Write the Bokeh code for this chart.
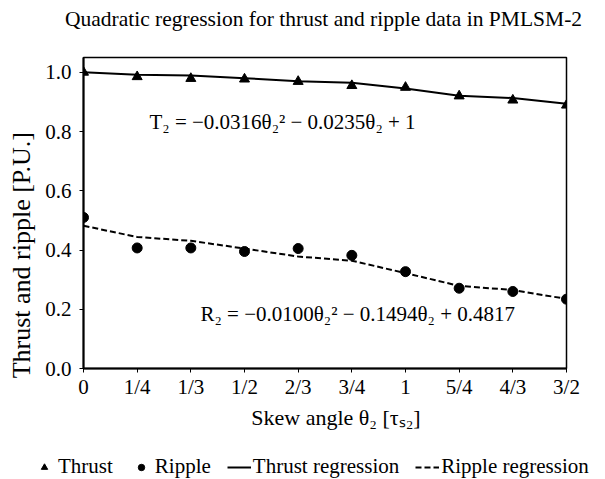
from bokeh.plotting import figure
from bokeh.layouts import column
from bokeh.models import (Range1d, FixedTicker, Legend, LegendItem, Label,
                          NumeralTickFormatter, ColumnDataSource)
from bokeh.embed import file_html
from bokeh.resources import INLINE

# ---- data ----
categories = ["0", "1/4", "1/3", "1/2", "2/3", "3/4", "1", "5/4", "4/3", "3/2"]
thrust = [1.000, 0.985, 0.979, 0.977, 0.969, 0.955, 0.949, 0.920, 0.906, 0.889]
ripple = [0.510, 0.407, 0.407, 0.395, 0.405, 0.382, 0.327, 0.271, 0.260, 0.234]
thrust_fit = [1.000, 0.992, 0.989, 0.980, 0.970, 0.965, 0.945, 0.921, 0.913, 0.894]
ripple_fit = [0.482, 0.444, 0.431, 0.405, 0.378, 0.364, 0.322, 0.279, 0.265, 0.235]
y_ticks = [0.0, 0.2, 0.4, 0.6, 0.8, 1.0]

title_text = "Quadratic regression for thrust and ripple data in PMLSM-2"
x_label = "Skew angle \u03b8\u2082 [\u03c4\u209b\u2082]"
y_label = "Thrust and ripple [P.U.]"
eq_thrust = "T\u2082 = \u22120.0316\u03b8\u2082\u00b2 \u2212 0.0235\u03b8\u2082 + 1"
eq_ripple = "R\u2082 = \u22120.0100\u03b8\u2082\u00b2 \u2212 0.1494\u03b8\u2082 + 0.4817"
legend_labels = ["Thrust", "Ripple", "Thrust regression", "Ripple regression"]

FONT = "Liberation Serif"
FS = "21px"
NB = "\u00a0"
W = 605


def strip(height):
    f = figure(width=W, height=height, output_backend="svg",
               toolbar_location=None, x_range=Range1d(0, W),
               y_range=Range1d(0, height), x_axis_type=None, y_axis_type=None,
               min_border_left=0, min_border_right=0, min_border_top=0,
               min_border_bottom=0)
    f.frame_align = False
    f.grid.visible = False
    f.outline_line_color = None
    f.background_fill_color = "white"
    f.border_fill_color = "white"
    return f


# ---- title strip ----
tt = strip(36)
tt.add_layout(Label(x=323, y=18, text=title_text, text_font=FONT,
                    text_font_size="21.5px", text_align="center",
                    text_baseline="middle", text_color="black"))

# ---- main chart ----
idx = list(range(len(categories)))
src = ColumnDataSource(dict(x=idx, thrust=thrust, ripple=ripple,
                            thrust_fit=thrust_fit, ripple_fit=ripple_fit))

p = figure(width=W, height=419, output_backend="svg", toolbar_location=None,
           x_range=Range1d(0, len(categories) - 1), y_range=Range1d(0, 1.05),
           min_border_left=83, min_border_right=39, min_border_top=21,
           min_border_bottom=87)
p.frame_align = False
p.title = None

p.grid.visible = False
p.outline_line_color = "black"
p.outline_line_width = 1.5
p.background_fill_color = "white"
p.border_fill_color = "white"

p.xaxis.ticker = FixedTicker(ticks=idx)
p.xaxis.major_label_overrides = {i: c for i, c in enumerate(categories)}
p.yaxis.ticker = FixedTicker(ticks=y_ticks)
p.yaxis.formatter = NumeralTickFormatter(format="0.0")
for ax in (p.xaxis, p.yaxis):
    ax.axis_line_color = "black"
    ax.axis_line_width = 2
    ax.major_tick_line_color = "black"
    ax.major_tick_out = 4
    ax.major_tick_in = 0
    ax.minor_tick_line_color = None
    ax.major_label_text_font = FONT
    ax.major_label_text_font_size = FS
    ax.major_label_text_color = "black"
    ax.axis_label_text_font = FONT
    ax.axis_label_text_font_style = "normal"
    ax.axis_label_text_color = "black"
p.xaxis.axis_label = NB * 4 + x_label
p.yaxis.axis_label = y_label + NB * 13
p.xaxis.axis_label_text_font_size = "22px"
p.yaxis.axis_label_text_font_size = "26px"
p.xaxis.major_label_standoff = 2
p.xaxis.axis_label_standoff = 3
p.yaxis.major_label_standoff = 8
p.yaxis.axis_label_standoff = 6

r_tfit = p.line("x", "thrust_fit", source=src, line_color="black", line_width=2)
r_rfit = p.line("x", "ripple_fit", source=src, line_color="black", line_width=2,
                line_dash="6 3")
r_t = p.scatter("x", "thrust", source=src, marker="triangle", size=10,
                fill_color="black", line_color="black")
r_r = p.scatter("x", "ripple", source=src, marker="circle", size=10,
                fill_color="black", line_color="black")

p.add_layout(Label(x=1.23, y=0.833, text=eq_thrust, text_font=FONT,
                   text_font_size=FS, text_baseline="middle",
                   text_color="black"))
p.add_layout(Label(x=2.18, y=0.185, text=eq_ripple, text_font=FONT,
                   text_font_size=FS, text_baseline="middle",
                   text_color="black"))

# ---- legend strip (legend keys only; proxies lie off-view) ----
lg = strip(24)


def proxy_src():
    return ColumnDataSource(dict(x=[-50, -60], y=[-50, -60]))


k_t = lg.scatter("x", "y", source=proxy_src(), marker="triangle",
                 size=6, fill_color="black", line_color="black")
k_r = lg.scatter("x", "y", source=proxy_src(), marker="circle",
                 size=6, fill_color="black", line_color="black")
k_tf = lg.line("x", "y", source=proxy_src(), line_color="black", line_width=2)
k_rf = lg.line("x", "y", source=proxy_src(), line_color="black",
               line_width=2, line_dash="6 3")

legend = Legend(items=[LegendItem(label=legend_labels[0], renderers=[k_t]),
                       LegendItem(label=legend_labels[1], renderers=[k_r]),
                       LegendItem(label=legend_labels[2], renderers=[k_tf]),
                       LegendItem(label=legend_labels[3], renderers=[k_rf])],
                orientation="horizontal", location=(32, 0),
                label_text_font=FONT, label_text_font_size="21px",
                label_text_color="black",
                border_line_color=None, background_fill_alpha=0,
                glyph_width=24, glyph_height=16, spacing=16, label_standoff=2,
                padding=0, margin=0)
lg.add_layout(legend, "center")

layout = column(tt, p, lg, spacing=0)
open("out.html", "w").write(file_html(layout, INLINE))
